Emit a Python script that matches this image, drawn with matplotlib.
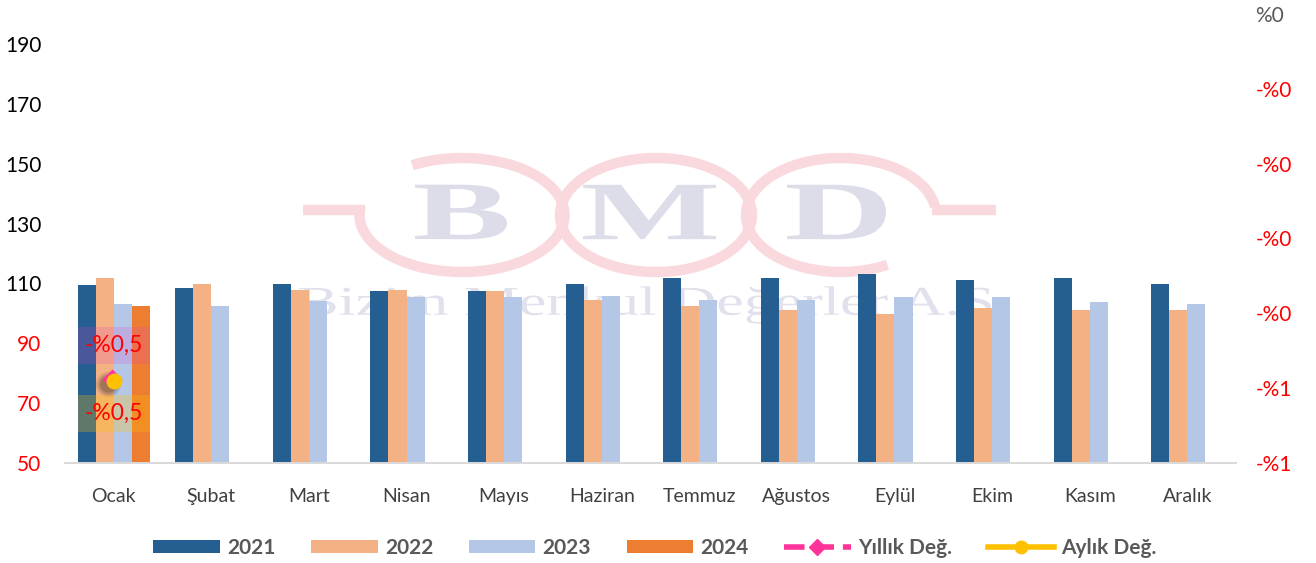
import numpy as np
import matplotlib
matplotlib.use("Agg")
import matplotlib.pyplot as plt
import matplotlib.transforms as mtransforms
from matplotlib.patches import Arc, Patch, Rectangle, PathPatch
from matplotlib.lines import Line2D
from matplotlib.font_manager import FontProperties
from matplotlib.textpath import TextPath

plt.rcParams['font.family'] = ['Lato', 'DejaVu Sans']

# ---- data ----
months = ["Ocak", "Şubat", "Mart", "Nisan", "Mayıs", "Haziran",
          "Temmuz", "Ağustos", "Eylül", "Ekim", "Kasım", "Aralık"]
y2021 = [109.3, 108.5, 109.9, 107.3, 107.3, 109.9, 111.9, 111.9, 113.2, 111.3, 111.9, 109.9]
y2022 = [111.9, 109.9, 107.9, 107.9, 107.3, 104.6, 102.6, 101.2, 99.9, 101.9, 101.2, 101.2]
y2023 = [103.2, 102.6, 104.0, 105.3, 105.3, 105.9, 104.6, 104.6, 105.3, 105.3, 103.9, 103.2]
y2024 = [102.6] + [np.nan] * 11
yillik = [-0.0049] + [np.nan] * 11   # Yıllık Değ.
aylik = [-0.0049] + [np.nan] * 11    # Aylık Değ.

series = [("2021", y2021, "#255e91"),
          ("2022", y2022, "#f4b183"),
          ("2023", y2023, "#b4c7e7"),
          ("2024", y2024, "#ed7d31")]
c_yil = "#ff3399"
c_ay = "#ffc000"

W, H = 1316, 563
fig = plt.figure(figsize=(W / 100, H / 100), dpi=100, facecolor="white")

# ---- watermark (BMD logo), pixel coords with y measured from top ----
bg = fig.add_axes([0, 0, 1, 1], zorder=0)
bg.set_xlim(0, W)
bg.set_ylim(0, H)
bg.axis("off")


def iy(y):
    return H - y


ring = "#f9d9dd"
ring_lw = 7.5
for cx, rw, th1, th2 in [(462, 205, 175, 495), (656, 192, 0, 360), (841, 190, 5, 313)]:
    bg.add_patch(Arc((cx, iy(215)), rw, 114, theta1=th1, theta2=th2,
                     color=ring, lw=ring_lw))
bg.plot([303, 365], [iy(210), iy(210)], color=ring, lw=ring_lw, solid_capstyle="butt")
bg.plot([932, 996], [iy(210), iy(210)], color=ring, lw=ring_lw, solid_capstyle="butt")


def stretched_text(s, x0, x1, yc, size, color, weight="normal"):
    fp = FontProperties(family="Liberation Serif", weight=weight)
    tp = TextPath((0, 0), s, size=size, prop=fp)
    ext = tp.get_extents()
    sx = (x1 - x0) / ext.width
    tr = mtransforms.Affine2D().translate(-ext.x0, -ext.y0).scale(sx, 1) \
        .translate(x0, iy(yc) - ext.height / 2)
    bg.add_patch(PathPatch(tr.transform_path(tp), facecolor=color,
                           edgecolor="none", zorder=1))


for ch, x0, x1 in [("B", 415, 507), ("M", 583, 716), ("D", 787, 886)]:
    stretched_text(ch, x0, x1, 212, 83, "#dcdde9", weight="bold")
stretched_text("Bizim Menkul Değerler A.Ş.", 299, 1006, 305, 41, "#e0e1ec")

# ---- main axes ----
ax = fig.add_axes([65 / W, 1 - 463 / H, (1236 - 65) / W, (463 - 14) / H])
ax.set_zorder(1)
ax.patch.set_visible(False)
ax2 = ax.twinx()
ax2.set_zorder(2)
ax2.patch.set_visible(False)

x = np.arange(len(months))
bw = 0.185
for k, (name, vals, col) in enumerate(series):
    ax.bar(x + (k - 1.5) * bw, vals, bw, color=col, label=name, zorder=2)

ax.set_xlim(-0.5, len(months) - 0.5)
ax.set_ylim(50, 200)
ax.set_yticks(np.arange(50, 191, 20))
ax.set_xticks(x)
ax.set_xticklabels(months, fontsize=14, color="#404040")
ax.tick_params(axis="x", length=0, pad=18)
ax.tick_params(axis="y", length=0, pad=17, labelsize=15)
for t, v in zip(ax.get_yticklabels(), ax.get_yticks()):
    t.set_color("red" if v <= 90 else "black")

ax2.set_ylim(-0.006, 0)
ax2.set_yticks(np.linspace(-0.006, 0, 7))


def pct0(v, pos=None):
    r = int(np.floor(abs(v) * 100 + 0.5 + 1e-9))
    return ("-" if v < -1e-12 else "") + "%" + str(r)


ax2.yaxis.set_major_formatter(matplotlib.ticker.FuncFormatter(pct0))
ax2.tick_params(axis="y", length=0, pad=14, labelsize=15)
for t, v in zip(ax2.get_yticklabels(), ax2.get_yticks()):
    t.set_color("#595959" if abs(v) < 1e-12 else "red")

for a in (ax, ax2):
    for s in ("top", "left", "right"):
        a.spines[s].set_visible(False)
    a.spines["bottom"].set_color("#d9d9d9")
    a.spines["bottom"].set_linewidth(1.2)

# lines (single January points) with a soft shadow
for ms, al in [(18, 0.10), (15, 0.14), (12, 0.18)]:
    sh = mtransforms.offset_copy(ax2.transData, fig=fig, x=-6, y=-3, units="dots")
    ax2.plot(x, aylik, "o", ms=ms, color="#111111", alpha=al, mec="none",
             transform=sh, zorder=3)
pk = mtransforms.offset_copy(ax2.transData, fig=fig, x=-1.5, y=1.5, units="dots")
ax2.plot(x, yillik, "D", ms=10, color=c_yil, mec="none", transform=pk, zorder=4)
ax2.plot(x, aylik, "o", ms=11.5, color=c_ay, mec="none", zorder=5)

# data labels with translucent backgrounds
px = 0.006 / 449


def lab(v):
    return ("-" if v < 0 else "") + "%" + f"{abs(v) * 100:.1f}".replace(".", ",")


for vals, col, al, dy in [(yillik, "#e040c8", 0.2, 35.5), (aylik, c_ay, 0.27, -33)]:
    v = vals[0]
    cy = v + dy * px
    ax2.add_patch(Rectangle((x[0] - 2 * bw, cy - 18.5 * px), 4 * bw, 37 * px,
                            facecolor=col, alpha=al, edgecolor="none", zorder=3))
    ax2.text(x[0], cy, lab(v), ha="center", va="center", color="red",
             fontsize=16.5, zorder=6)

# legend
handles = [Patch(facecolor=c, label=n) for n, _, c in series]
handles += [Line2D([], [], color=c_yil, ls="--", lw=4, marker="D", ms=8, label="Yıllık Değ."),
            Line2D([], [], color=c_ay, lw=4, marker="o", ms=9, label="Aylık Değ.")]
leg = fig.legend(handles=handles, loc="center", bbox_to_anchor=(655 / W, 1 - 548 / H),
                 ncol=6, frameon=False, handlelength=3.2, handleheight=0.6,
                 columnspacing=1.7, handletextpad=0.35,
                 prop={"weight": "bold", "size": 15})
for t in leg.get_texts():
    t.set_color("#595959")

fig.savefig("out.png", dpi=100)
